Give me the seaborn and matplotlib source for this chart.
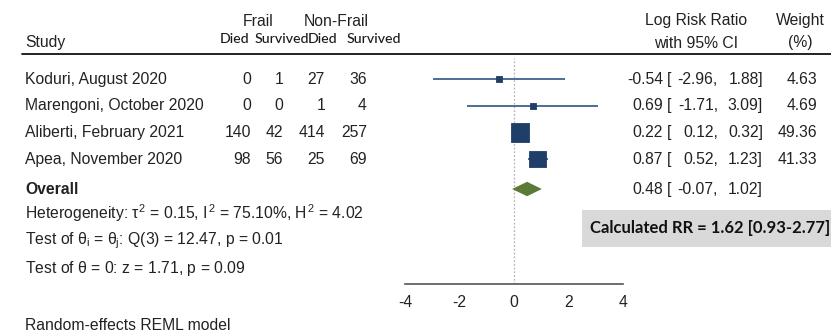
import matplotlib
matplotlib.use("Agg")
import matplotlib.pyplot as plt
import matplotlib.transforms as mtransforms
from matplotlib.patches import Rectangle
import numpy as np
import pandas as pd
import seaborn as sns

# ---- study data ----
studies = ["Koduri, August 2020", "Marengoni, October 2020",
           "Aliberti, February 2021", "Apea, November 2020"]
frail_died = [0, 0, 140, 98]
frail_survived = [1, 0, 42, 56]
nonfrail_died = [27, 1, 414, 25]
nonfrail_survived = [36, 4, 257, 69]
log_rr = [-0.54, 0.69, 0.22, 0.87]
ci_low = [-2.96, -1.71, 0.12, 0.52]
ci_high = [1.88, 3.09, 0.32, 1.23]
weights = [4.63, 4.69, 49.36, 41.33]

overall_est = 0.48
overall_low = -0.07
overall_high = 1.02

x_ticks = [-4, -2, 0, 2, 4]

sns.set_theme(style="white")
plt.rcParams["font.family"] = ["Liberation Sans", "DejaVu Sans"]
plt.rcParams["mathtext.fontset"] = "custom"
plt.rcParams["mathtext.rm"] = "Liberation Sans"
plt.rcParams["mathtext.it"] = "Liberation Sans"
plt.rcParams["mathtext.bf"] = "Liberation Sans:bold"

W, H = 831, 333
fig = plt.figure(figsize=(W / 100, H / 100), dpi=100)
fig.patch.set_facecolor("white")


def fx(px):
    return px / W


def fy(py):
    return 1 - py / H


# forest panel
ax_left, ax_right, ax_top, ax_bottom = 405, 623, 58, 284
ax = fig.add_axes([fx(ax_left), fy(ax_bottom), fx(ax_right - ax_left),
                   (ax_bottom - ax_top) / H])
ax.set_facecolor("none")

row_pos = np.arange(len(studies), dtype=float)
overall_pos = 4.12
ax.set_xlim(-4, 4)
ax.set_ylim(7.68, -0.79)

df = pd.DataFrame({"study": studies, "est": log_rr, "lo": ci_low,
                   "hi": ci_high, "w": weights, "y": row_pos})

line_col = "#3d6290"
box_col = "#1f3e68"
diamond_col = "#5b7a36"

# zero reference line
ax.axvline(0, color="#b5b5b5", lw=0.9, ls=(0, (1.5, 1.5)), zorder=0)

# confidence intervals
ax.hlines(df["y"], df["lo"], df["hi"], color=line_col, lw=1.3, zorder=1)

# weighted squares
size_scale = 3.5
sns.scatterplot(data=df, x="est", y="y", size="w",
                sizes={w: size_scale * w for w in weights},
                marker="s", color=box_col, edgecolor=box_col, linewidth=0.6,
                legend=False, ax=ax, zorder=2, clip_on=False)

# overall diamond
dh = 0.27
ax.fill([overall_low, overall_est, overall_high, overall_est],
        [overall_pos, overall_pos - dh, overall_pos, overall_pos + dh],
        color=diamond_col, lw=0, zorder=2)

# axis styling
for s in ["top", "right", "left"]:
    ax.spines[s].set_visible(False)
ax.spines["bottom"].set_color("#555555")
ax.spines["bottom"].set_linewidth(1.2)
ax.set_xticks(x_ticks)
ax.set_xticklabels([str(t) for t in x_ticks])
ax.set_yticks([])
ax.tick_params(axis="x", direction="out", length=4, width=1.2,
               color="#555555", labelsize=11.3, pad=4, labelcolor="#222222")
ax.set_xlabel("")
ax.set_ylabel("")

# text rows share the panel's y scale
row_tf = mtransforms.blended_transform_factory(fig.transFigure, ax.transData)
txt_kw = dict(fontsize=11.3, color="#222222", va="center", transform=row_tf)


def effect_text(y, est, lo, hi):
    fig.text(fx(663), y, f"{est:.2f}", ha="right", **txt_kw)
    fig.text(fx(667), y, "[", ha="left", **txt_kw)
    fig.text(fx(718), y, f"{lo:.2f},", ha="right", **txt_kw)
    fig.text(fx(763), y, f"{hi:.2f}]", ha="right", **txt_kw)


for i, name in enumerate(studies):
    y = row_pos[i]
    fig.text(fx(25), y, name, ha="left", **txt_kw)
    fig.text(fx(251), y, str(frail_died[i]), ha="right", **txt_kw)
    fig.text(fx(283), y, str(frail_survived[i]), ha="right", **txt_kw)
    fig.text(fx(325), y, str(nonfrail_died[i]), ha="right", **txt_kw)
    fig.text(fx(367), y, str(nonfrail_survived[i]), ha="right", **txt_kw)
    effect_text(y, log_rr[i], ci_low[i], ci_high[i])
    fig.text(fx(817), y, f"{weights[i]:.2f}", ha="right", **txt_kw)

fig.text(fx(25), overall_pos, "Overall", ha="left", fontweight="bold",
         **txt_kw)
effect_text(overall_pos, overall_est, overall_low, overall_high)

# header
hdr = dict(fontsize=11.3, color="#222222", va="center")
fig.text(fx(25), fy(43), "Study", ha="left", **hdr)
fig.text(fx(258), fy(21), "Frail", ha="center", **hdr)
fig.text(fx(336), fy(21), "Non-Frail", ha="center", **hdr)
sub = dict(fontsize=10.2, color="#1a1a1a", va="center", family="Lato",
           fontweight="medium")
fig.text(fx(235), fy(39), "Died", ha="center", **sub)
fig.text(fx(282), fy(39), "Survived", ha="center", **sub)
fig.text(fx(323), fy(39), "Died", ha="center", **sub)
fig.text(fx(374), fy(39), "Survived", ha="center", **sub)
fig.text(fx(696), fy(21), "Log Risk Ratio", ha="center", **hdr)
fig.text(fx(696), fy(43), "with 95% CI", ha="center", **hdr)
fig.text(fx(800), fy(21), "Weight", ha="center", **hdr)
fig.text(fx(800), fy(43), "(%)", ha="center", **hdr)
fig.add_artist(plt.Line2D([fx(22), fx(831)], [fy(54), fy(54)],
                          color="#111111", lw=1.3))

# heterogeneity statistics
fig.text(fx(25), fy(213),
         r"Heterogeneity: $\tau^2$ = 0.15, $I^2$ = 75.10%, $H^2$ = 4.02",
         ha="left", **hdr)
fig.text(fx(25), fy(241), r"Test of $\theta_i$ = $\theta_j$: Q(3) = 12.47, p = 0.01",
         ha="left", **hdr)
fig.text(fx(25), fy(268), r"Test of $\theta$ = 0: z = 1.71, p = 0.09",
         ha="left", **hdr)
fig.text(fx(25), fy(326), "Random-effects REML model", ha="left", **hdr)

# pooled risk ratio box
fig.add_artist(Rectangle((fx(582), fy(247)), fx(831 - 582), (247 - 210) / H,
                         transform=fig.transFigure, facecolor="#d9d9d9",
                         edgecolor="none"))
fig.text(fx(590), fy(228), "Calculated RR = 1.62 [0.93-2.77]", ha="left",
         va="center", fontsize=12.0, fontweight="bold", family="Lato",
         color="#111111")

fig.savefig("out.png", dpi=100, facecolor="white")
